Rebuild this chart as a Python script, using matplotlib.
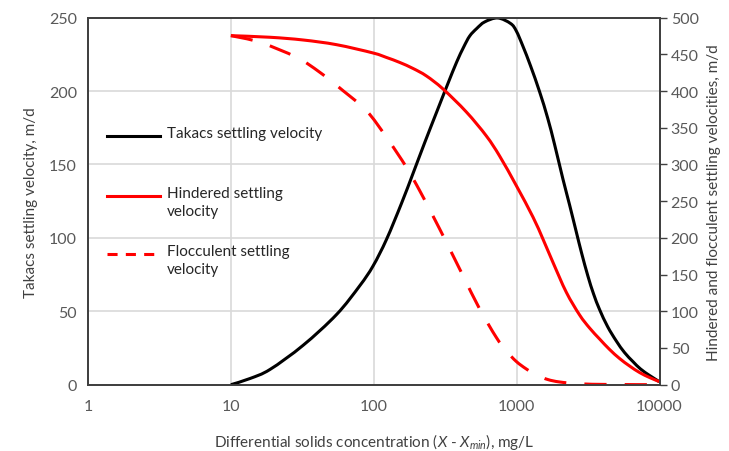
import matplotlib
matplotlib.use("Agg")
import numpy as np
import matplotlib.pyplot as plt
from matplotlib.lines import Line2D
from matplotlib.path import Path
from matplotlib.patches import PathPatch

plt.rcParams['font.family'] = ['Lato', 'DejaVu Sans']
plt.rcParams['mathtext.fontset'] = 'custom'
plt.rcParams['mathtext.rm'] = 'Lato'
plt.rcParams['mathtext.it'] = 'Lato:italic'

# --- data ---
takacs_x = [10, 13.6, 18.8, 32, 54.9, 79.8, 98.9, 122.7, 156.2, 188.3, 227.3, 275.8, 329.3,
            380.5, 426, 469.3, 525.3, 597.4, 736.5, 907.8, 995, 1107, 1253, 1448, 1648, 1844,
            2108, 2348, 2616, 2848, 3153, 3455, 3805, 4330, 4980, 5690, 6507, 7365, 8511, 9730, 10000]
takacs_v = [0, 4.2, 10.4, 26.8, 47.8, 67.4, 80.9, 98.9, 123.4, 143.9, 164.9, 185.8, 204.8,
            219.8, 230, 237.5, 242.6, 247.1, 249.8, 246, 240.9, 230.5, 217, 199.5, 181.7, 163.5,
            140.1, 122.4, 104, 89.7, 74, 61.8, 51.2, 39.6, 29.8, 21.9, 15.8, 10.7, 6.3, 2.7, 1.8]

hindered_x = [10, 18.8, 32, 54.9, 98.9, 122.7, 152, 188.3, 233.6, 305.2, 444.8, 614, 760.6,
              995.2, 1300, 1527, 1794, 2227, 2758, 3240, 3805, 4470, 5252, 6169, 7247, 8514, 9730, 10000]
hindered_v = [475.5, 473.3, 469.6, 463.2, 451.9, 445.8, 439, 430.8, 420.6, 402.9, 371.5, 338.8, 311.4,
              271.1, 228.5, 198.5, 166.8, 125.9, 95, 77.2, 62.3, 48, 35.7, 25.5, 16.6, 9.8, 5, 3.7]

floc_x = [10, 15.95, 28.8, 41.9, 61, 88.9, 122.7, 169.3, 209.7, 259.8, 322.3, 421.2, 551.2,
          721.1, 847.2, 995, 1169, 1373, 1648, 1998, 2758, 4470, 10000]
floc_v = [475.5, 466.5, 446, 425.6, 400.5, 373.3, 337.1, 296.2, 264.3, 229.8, 194, 148.5, 103.1,
          64.3, 45.9, 31.6, 21.4, 13.2, 7.1, 3.7, 1.2, 0.3, 0]

x_ticks = [1, 10, 100, 1000, 10000]
left_ticks = [0, 50, 100, 150, 200, 250]
right_ticks = list(range(0, 501, 50))

legend_labels = ["Takacs settling velocity", "Hindered settling\nvelocity", "Flocculent settling\nvelocity"]

tick_color = "#595959"
grid_color = "#D9D9D9"
red = "#FF0000"


def smooth_line(ax, xs, ys, dashes=None, **kw):
    # Excel-style "smoothed line": bezier segments through the read points,
    # control points taken in log-x space so the curve bends like the original
    lx = np.log10(np.asarray(xs, float))
    y = np.asarray(ys, float)
    n = len(lx)
    verts = [(xs[0], ys[0])]
    codes = [Path.MOVETO]
    for i in range(n - 1):
        i0, i3 = max(i - 1, 0), min(i + 2, n - 1)
        c1 = (lx[i] + (lx[i + 1] - lx[i0]) / 6, y[i] + (y[i + 1] - y[i0]) / 6)
        c2 = (lx[i + 1] - (lx[i3] - lx[i]) / 6, y[i + 1] - (y[i3] - y[i]) / 6)
        verts += [(10 ** c1[0], c1[1]), (10 ** c2[0], c2[1]), (xs[i + 1], ys[i + 1])]
        codes += [Path.CURVE4] * 3
    patch = PathPatch(Path(verts, codes), fill=False, transform=ax.transData,
                      capstyle="butt", joinstyle="round", **kw)
    if dashes is not None:
        patch.set_linestyle((0, [d * kw.get("lw", 1) for d in dashes]))
    ax.add_patch(patch)
    return patch


fig = plt.figure(figsize=(7.29, 4.52), dpi=100)
ax = fig.add_axes([0.1207, 0.1467, 0.7840, 0.8120])
ax2 = ax.twinx()

ax.set_xscale("log")
ax.set_xlim(1, 10000)
ax.set_xticks(x_ticks)
ax.set_xticklabels([str(t) for t in x_ticks])
ax.minorticks_off()
ax.set_ylim(0, 250)
ax.set_yticks(left_ticks)
ax2.set_ylim(0, 500)
ax2.set_yticks(right_ticks)

smooth_line(ax, takacs_x, takacs_v, edgecolor="black", lw=2.2, zorder=3)
smooth_line(ax2, hindered_x, hindered_v, edgecolor=red, lw=2.2)
smooth_line(ax2, floc_x, floc_v, dashes=[3.3, 2.7], edgecolor=red, lw=2.2)

ax.grid(True, color=grid_color, lw=1.2)
ax.set_axisbelow(True)

ax.tick_params(axis="both", length=0, labelsize=11.5, labelcolor=tick_color, pad=8)
ax.tick_params(axis="x", pad=10)
ax2.tick_params(axis="y", direction="out", length=5, width=1, color="#404040",
                labelsize=11.5, labelcolor=tick_color, pad=3)

for a in (ax, ax2):
    for s in a.spines.values():
        s.set_color("#404040")
        s.set_linewidth(1.3)

ax.set_xlabel(r"Differential solids concentration ($\mathit{X}$ - $\mathit{X_{min}}$), mg/L",
              fontsize=11, color="#404040", labelpad=13)
ax.set_ylabel("Takacs settling velocity, m/d", fontsize=11, color="#404040", labelpad=8)
ax2.set_ylabel("Hindered and flocculent settling velocities, m/d", fontsize=11,
               color="#404040", labelpad=6)

# legend drawn by hand so the handle sits on the first line of each label
styles = [dict(color="black"), dict(color=red), dict(color=red, dashes=[3.3, 2.7])]
first_line_y = [0.678, 0.515, 0.356]
for lab, st, yy in zip(legend_labels, styles, first_line_y):
    kw = dict(st)
    dashes = kw.pop("dashes", None)
    ln = Line2D([0.033, 0.126], [yy, yy], transform=ax.transAxes, lw=2.2, **kw)
    if dashes:
        ln.set_dashes(dashes)
    ax2.add_line(ln)
    ax2.text(0.138, yy + 0.027, lab, transform=ax.transAxes, fontsize=11, color="#262626",
             va="top", ha="left", linespacing=1.35)

fig.savefig("out.png", dpi=100)
